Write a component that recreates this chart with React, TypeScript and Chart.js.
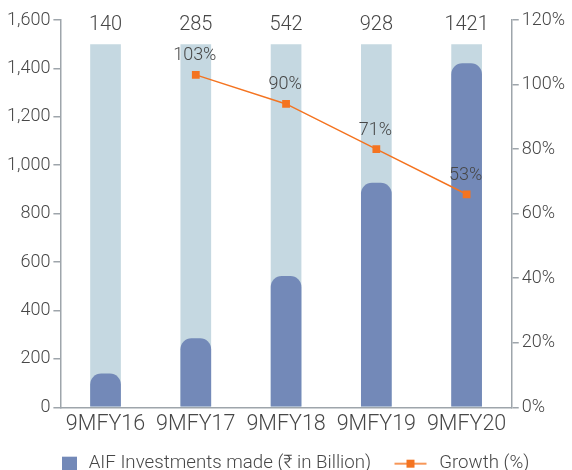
import React, { useEffect, useRef } from "react";
import { Chart, registerables } from "chart.js";

Chart.register(...registerables);

const categories = ["9MFY16", "9MFY17", "9MFY18", "9MFY19", "9MFY20"];
const investments = [140, 285, 542, 928, 1421];
const backdrop = [1500, 1500, 1500, 1500, 1500];
const growth = [null, 103, 94, 80, 66];
const growthLabels = ["", "103%", "90%", "71%", "53%"];
const investmentLabels = ["140", "285", "542", "928", "1421"];
const leftTicks = [0, 200, 400, 600, 800, 1000, 1200, 1400, 1600];
const rightTicks = [0, 20, 40, 60, 80, 100, 120];

const FONT = "Roboto";
const TEXT = "#474747";
const AXIS = "#9ea5ab";
const BAR = "#7389b8";
const BACK = "#c5d8e1";
const ORANGE = "#f47421";

export default function App() {
  const ref = useRef<HTMLCanvasElement | null>(null);

  useEffect(() => {
    if (!ref.current) return;

    const sq = document.createElement("canvas");
    sq.width = 36;
    sq.height = 16;
    const sctx = sq.getContext("2d")!;
    sctx.fillStyle = BAR;
    sctx.fillRect(19, 1, 15, 15);

    const ln = document.createElement("canvas");
    ln.width = 36;
    ln.height = 16;
    const lctx = ln.getContext("2d")!;
    lctx.strokeStyle = ORANGE;
    lctx.lineWidth = 1.5;
    lctx.beginPath();
    lctx.moveTo(1, 8);
    lctx.lineTo(33, 8);
    lctx.stroke();
    lctx.fillStyle = ORANGE;
    lctx.fillRect(13, 4, 8, 8);

    const labelPlugin = {
      id: "labels",
      afterDatasetsDraw(chart: any) {
        const ctx = chart.ctx;
        const y = chart.scales.y;
        const x = chart.scales.x;
        ctx.save();
        ctx.fillStyle = TEXT;
        ctx.font = `300 20px ${FONT}`;
        ctx.textAlign = "center";
        ctx.textBaseline = "middle";
        investmentLabels.forEach((t, i) => {
          ctx.fillText(t, x.getPixelForValue(i), y.getPixelForValue(1600) + 5);
        });
        const meta = chart.getDatasetMeta(0);
        ctx.font = `300 18px ${FONT}`;
        meta.data.forEach((pt: any, i: number) => {
          if (!growthLabels[i]) return;
          ctx.fillText(growthLabels[i], pt.x - 1, pt.y - 19);
        });
        ctx.restore();
      },
    };

    const chart = new Chart(ref.current, {
      type: "bar",
      data: {
        labels: categories,
        datasets: [
          {
            type: "line",
            label: "Growth (%)",
            data: growth as any,
            yAxisID: "y1",
            borderColor: ORANGE,
            backgroundColor: ORANGE,
            borderWidth: 1.5,
            pointStyle: "rect",
            pointRadius: 5.5,
            pointBorderWidth: 0,
            order: 0,
          } as any,
          {
            label: "AIF Investments made (₹ in Billion)",
            data: investments,
            backgroundColor: BAR,
            yAxisID: "y",
            grouped: false,
            borderRadius: 11,
            borderSkipped: "start",
            categoryPercentage: 1,
            barPercentage: 0.34,
            order: 1,
          } as any,
          {
            label: "backdrop",
            data: backdrop,
            backgroundColor: BACK,
            yAxisID: "y",
            grouped: false,
            categoryPercentage: 1,
            barPercentage: 0.34,
            order: 2,
          } as any,
        ],
      },
      options: {
        animation: false,
        responsive: false,
        maintainAspectRatio: false,
        layout: { padding: { left: 4, right: 4, top: 20, bottom: -13 } },
        plugins: {
          tooltip: { enabled: false },
          legend: {
            position: "bottom",
            labels: {
              usePointStyle: true,
              pointStyleWidth: 36.65,
              color: TEXT,
              font: { family: FONT, size: 18.7, weight: "300" as any, lineHeight: 1 },
              padding: 22,
              generateLabels: () => [
                {
                  text: "AIF Investments made (₹ in Billion)",
                  fillStyle: BAR,
                  strokeStyle: BAR,
                  lineWidth: 0,
                  pointStyle: sq as any,
                  datasetIndex: 1,
                  hidden: false,
                  fontColor: TEXT,
                },
                {
                  text: "Growth (%)",
                  fillStyle: ORANGE,
                  strokeStyle: ORANGE,
                  lineWidth: 0,
                  pointStyle: ln as any,
                  datasetIndex: 0,
                  hidden: false,
                  fontColor: TEXT,
                },
              ],
            },
          },
        },
        scales: {
          x: {
            grid: { display: false, drawTicks: false },
            border: { display: true, color: AXIS, width: 1.5 },
            afterFit: (s: any) => {
              s.height = 25;
            },
            ticks: {
              color: TEXT,
              font: { family: FONT, size: 21.5, weight: "300" as any, lineHeight: 0.05 },
              padding: 17,
              autoSkip: false,
              maxRotation: 0,
              minRotation: 0,
            },
          },
          y: {
            position: "left",
            min: 0,
            max: 1600,
            afterBuildTicks: (s: any) => {
              s.ticks = leftTicks.map((v) => ({ value: v }));
            },
            grid: {
              drawOnChartArea: false,
              drawTicks: true,
              tickLength: 7,
              color: AXIS,
              lineWidth: 1.5,
            },
            border: { display: true, color: AXIS, width: 1.5 },
            ticks: {
              color: TEXT,
              font: { family: FONT, size: 18, weight: "300" as any },
              padding: 3,
              callback: (v: any) => Number(v).toLocaleString("en-US"),
            },
          },
          y1: {
            position: "right",
            min: 0,
            max: 120,
            afterBuildTicks: (s: any) => {
              s.ticks = rightTicks.map((v) => ({ value: v }));
            },
            grid: {
              drawOnChartArea: false,
              drawTicks: true,
              tickLength: 7,
              color: AXIS,
              lineWidth: 1.5,
            },
            border: { display: true, color: AXIS, width: 1.5 },
            ticks: {
              color: TEXT,
              font: { family: FONT, size: 18, weight: "300" as any },
              padding: 3,
              callback: (v: any) => v + "%",
            },
          },
        },
      },
      plugins: [labelPlugin],
    });
    return () => chart.destroy();
  }, []);

  return (
    <div style={{ position: "fixed", left: 0, top: 0, width: 572, height: 470, background: "#fff" }}>
      <canvas ref={ref} width={572} height={470} style={{ width: 572, height: 470 }} />
    </div>
  );
}
